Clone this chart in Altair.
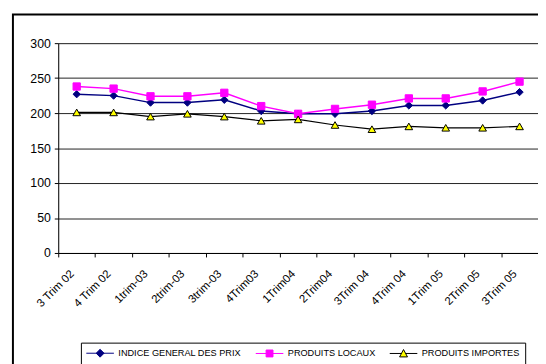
import altair as alt
import pandas as pd

categories = ["3 Trim 02", "4 Trim 02", "1trim-03", "2trim-03", "3trim-03", "4Trim03",
              "1Trim04", "2Trim04", "3Trim 04", "4Trim 04", "1Trim 05", "2Trim 05", "3Trim 05"]
indice_general = [227, 225, 215, 215, 219, 203, 199, 199, 203, 211, 211, 218, 230]
produits_locaux = [238, 235, 224, 224, 229, 210, 199, 206, 212, 221, 221, 231, 245]
produits_importes = [201, 201, 195, 199, 195, 189, 191, 183, 177, 181, 179, 179, 181]

series_names = ["INDICE GENERAL DES PRIX", "PRODUITS LOCAUX", "PRODUITS IMPORTES"]
line_colors = ["#000080", "#FF00FF", "#000000"]
fill_colors = ["#000080", "#FF00FF", "#FFFF00"]
shapes = ["diamond", "square", "triangle-up"]
marker_sizes = [55, 55, 60]
line_widths = [1.5, 1.5, 1.2]

# legend symbols: a short line with the marker in its middle
legend_paths = [
    "M-2.8,0H2.8M0,-0.8L0.8,0L0,0.8L-0.8,0Z",
    "M-2.8,0H2.8M-0.7,-0.7H0.7V0.7H-0.7Z",
    "M-2.8,0H-0.43M0.43,0H2.8M0,-0.8L0.8,0.7L-0.8,0.7Z",
]

rows = []
for name, vals in zip(series_names, [indice_general, produits_locaux, produits_importes]):
    for c, v in zip(categories, vals):
        rows.append({"periode": c, "valeur": v, "serie": name})
df = pd.DataFrame(rows)

FONT = "Liberation Sans"

x_enc = alt.X("periode:N", sort=categories, bandPosition=0.5,
              scale=alt.Scale(type="band", paddingInner=0, paddingOuter=0),
              axis=alt.Axis(title=None, labelAngle=-45, tickBand="extent", grid=False,
                            labelFontSize=11.5, labelFont=FONT, labelColor="black",
                            domainColor="black", tickColor="black", tickSize=4,
                            labelPadding=11, labelOffset=-9))
y_enc = alt.Y("valeur:Q", scale=alt.Scale(domain=[0, 300], nice=False),
              axis=alt.Axis(title=None, values=[0, 50, 100, 150, 200, 250, 300],
                            labelFontSize=12.5, labelFont=FONT, labelColor="black",
                            domainColor="black", tickColor="black", tickSize=4,
                            gridColor="#222222", gridWidth=1, labelPadding=4))

layers = []
for name, lc, fc, sh, ms, lw in zip(series_names, line_colors, fill_colors, shapes,
                                     marker_sizes, line_widths):
    base = alt.Chart(df).transform_filter(alt.datum.serie == name)
    layers.append(base.mark_line(color=lc, strokeWidth=lw).encode(x=x_enc, y=y_enc))
for name, lc, fc, sh, ms, lw in zip(series_names, line_colors, fill_colors, shapes,
                                     marker_sizes, line_widths):
    base = alt.Chart(df).transform_filter(alt.datum.serie == name)
    layers.append(base.mark_point(shape=sh, fill=fc, stroke=lc if sh == "triangle-up" else fc,
                                  strokeWidth=1, size=ms, opacity=1, fillOpacity=1)
                  .encode(x=x_enc, y=y_enc))

legend = alt.Legend(title=None, orient="none", legendX=23, legendY=304, direction="horizontal",
                    columns=3, symbolSize=100, symbolStrokeWidth=1, symbolOffset=9,
                    labelFont=FONT, labelFontSize=9.3, labelColor="black", labelOffset=13,
                    columnPadding=12, strokeColor="black", padding=5, symbolOpacity=1)
legend_layer = alt.Chart(df).transform_filter("false").mark_point(opacity=1, filled=False).encode(
    shape=alt.Shape("serie:N", scale=alt.Scale(domain=series_names, range=legend_paths), legend=legend),
    fill=alt.Fill("serie:N", scale=alt.Scale(domain=series_names, range=fill_colors), legend=legend),
    stroke=alt.Stroke("serie:N", scale=alt.Scale(domain=series_names, range=line_colors), legend=legend),
)
layers.append(legend_layer)

frame = alt.Chart(pd.DataFrame({"a": [0]})).mark_rect(
    fillOpacity=0, stroke="black", strokeWidth=2
).encode(x=alt.value(-46), x2=alt.value(560), y=alt.value(-29), y2=alt.value(420))
layers.append(frame)

chart = alt.layer(*layers).properties(
    width=487, height=213,
    autosize=alt.AutoSizeParams(type="none"),
    padding={"left": 51, "top": 33, "right": 0, "bottom": 110},
).configure_view(stroke=None).configure(background="white")

chart.save("out.html", embed_options={"renderer": "svg", "actions": False})
